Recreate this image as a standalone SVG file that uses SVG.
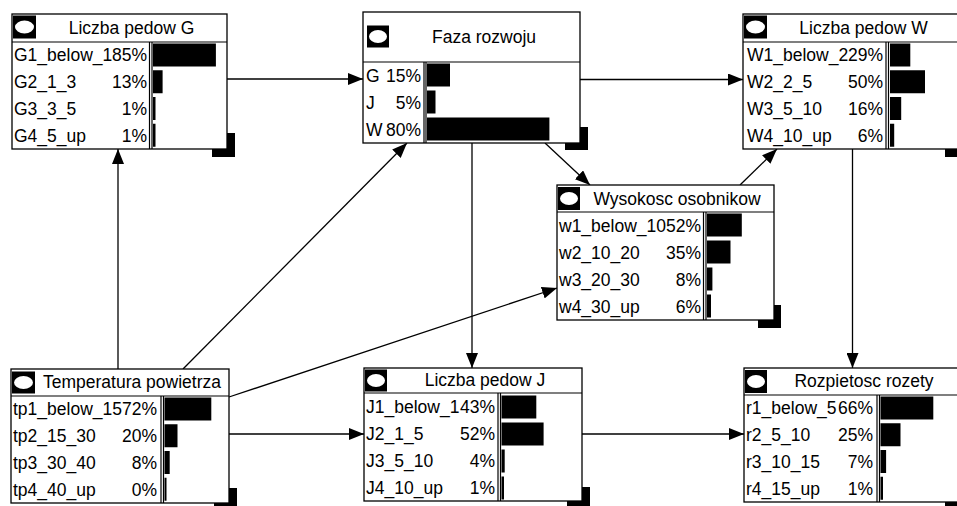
<svg xmlns="http://www.w3.org/2000/svg" width="957" height="506" viewBox="0 0 957 506">
<style>
.bg{fill:#fff}
.box{fill:#fff;stroke:#000;stroke-width:1.3}
.sep{stroke:#000;stroke-width:1.2;fill:none}
.sh{fill:#000}
.bar{fill:#000}
.ico{fill:#000}
.ell{fill:#fff}
.t{font-family:"Liberation Sans",Arial,sans-serif;font-size:17.5px;fill:#000}
.r{text-anchor:end}
.c{text-anchor:middle}
.ln{stroke:#000;stroke-width:1.3;fill:none;marker-end:url(#ah)}
</style>
<defs>
<marker id="ah" markerUnits="userSpaceOnUse" markerWidth="15" markerHeight="12" refX="15" refY="6" orient="auto">
<path d="M0,0 L15,6 L0,12 z" fill="#000"/>
</marker>
</defs>
<rect class="bg" x="0" y="0" width="957" height="506"/>
<g id="connectors">
<line class="ln" x1="227" y1="79" x2="363" y2="79"/>
<line class="ln" x1="580" y1="79.5" x2="743" y2="79.5"/>
<line class="ln" x1="545" y1="143" x2="590" y2="185"/>
<line class="ln" x1="472" y1="143" x2="472" y2="368"/>
<line class="ln" x1="740" y1="185" x2="777" y2="149"/>
<line class="ln" x1="852.5" y1="149" x2="852.5" y2="368"/>
<line class="ln" x1="118" y1="369" x2="118" y2="149"/>
<line class="ln" x1="183" y1="369" x2="407" y2="143"/>
<line class="ln" x1="229" y1="397" x2="557" y2="288"/>
<line class="ln" x1="229" y1="434" x2="364" y2="434"/>
<line class="ln" x1="582" y1="434" x2="744" y2="434"/>
</g>
<g id="node-liczba-pedow-g">
<rect class="sh" x="212" y="133" width="23" height="24"/>
<rect class="box" x="12" y="14" width="215" height="135"/>
<line class="sep" x1="12" y1="42" x2="227" y2="42"/>
<line class="sep" x1="149.5" y1="42" x2="149.5" y2="149"/>
<line class="sep" x1="152" y1="42" x2="152" y2="149"/>
<rect class="ico" x="13" y="15.5" width="23" height="23"/>
<ellipse class="ell" cx="24.5" cy="27" rx="9.5" ry="6.5"/>
<text class="t c" x="131.5" y="33.5">Liczba pedow G</text>
<text class="t" x="14" y="61.4">G1_below_1</text><text class="t r" x="147" y="61.4">85%</text>
<text class="t" x="14" y="88.1">G2_1_3</text><text class="t r" x="147" y="88.1">13%</text>
<text class="t" x="14" y="114.9">G3_3_5</text><text class="t r" x="147" y="114.9">1%</text>
<text class="t" x="14" y="141.6">G4_5_up</text><text class="t r" x="147" y="141.6">1%</text>
<rect class="bar" x="153" y="43.5" width="62.9" height="23"/>
<rect class="bar" x="153" y="70.25" width="9.6" height="23"/>
<rect class="bar" x="153" y="97" width="2.5" height="23"/>
<rect class="bar" x="153" y="123.75" width="2.5" height="23"/>
</g>
<g id="node-faza-rozwoju">
<rect class="sh" x="565" y="127" width="23" height="23"/>
<rect class="box" x="363" y="12" width="217" height="131"/>
<line class="sep" x1="363" y1="62" x2="580" y2="62"/>
<line class="sep" x1="424" y1="62" x2="424" y2="143"/>
<line class="sep" x1="426" y1="62" x2="426" y2="143"/>
<rect class="ico" x="367" y="25.5" width="22" height="22"/>
<ellipse class="ell" cx="378" cy="36.5" rx="9" ry="6.5"/>
<text class="t c" x="484" y="42.5">Faza rozwoju</text>
<text class="t" x="366" y="81.5">G</text><text class="t r" x="421" y="81.5">15%</text>
<text class="t" x="366" y="108.5">J</text><text class="t r" x="421" y="108.5">5%</text>
<text class="t" x="366" y="135.5">W</text><text class="t r" x="421" y="135.5">80%</text>
<rect class="bar" x="427" y="63.5" width="23" height="23"/>
<rect class="bar" x="427" y="90.5" width="8.5" height="23"/>
<rect class="bar" x="427" y="117.5" width="122.4" height="23"/>
</g>
<g id="node-liczba-pedow-w">
<rect class="sh" x="945" y="133" width="23" height="24"/>
<rect class="box" x="743" y="14" width="217" height="135"/>
<line class="sep" x1="743" y1="42" x2="960" y2="42"/>
<line class="sep" x1="886" y1="42" x2="886" y2="149"/>
<line class="sep" x1="888.5" y1="42" x2="888.5" y2="149"/>
<rect class="ico" x="744" y="15.5" width="23" height="23"/>
<ellipse class="ell" cx="755.5" cy="27" rx="9.5" ry="6.5"/>
<text class="t c" x="863.5" y="33.5">Liczba pedow W</text>
<text class="t" x="747" y="61.4">W1_below_2</text><text class="t r" x="883" y="61.4">29%</text>
<text class="t" x="747" y="88.1">W2_2_5</text><text class="t r" x="883" y="88.1">50%</text>
<text class="t" x="747" y="114.9">W3_5_10</text><text class="t r" x="883" y="114.9">16%</text>
<text class="t" x="747" y="141.6">W4_10_up</text><text class="t r" x="883" y="141.6">6%</text>
<rect class="bar" x="890" y="43.5" width="20.3" height="23"/>
<rect class="bar" x="890" y="70.25" width="35" height="23"/>
<rect class="bar" x="890" y="97" width="11.2" height="23"/>
<rect class="bar" x="890" y="123.75" width="4.2" height="23"/>
</g>
<g id="node-wysokosc-osobnikow">
<rect class="sh" x="758" y="305" width="23" height="23"/>
<rect class="box" x="557" y="185" width="217" height="135"/>
<line class="sep" x1="557" y1="212" x2="774" y2="212"/>
<line class="sep" x1="703.5" y1="212" x2="703.5" y2="320"/>
<line class="sep" x1="706" y1="212" x2="706" y2="320"/>
<rect class="ico" x="558" y="187" width="22" height="23"/>
<ellipse class="ell" cx="569" cy="198.5" rx="9" ry="6.5"/>
<text class="t c" x="677" y="204.5">Wysokosc osobnikow</text>
<text class="t" x="559" y="231.5">w1_below_10</text><text class="t r" x="701" y="231.5">52%</text>
<text class="t" x="559" y="258.5">w2_10_20</text><text class="t r" x="701" y="258.5">35%</text>
<text class="t" x="559" y="285.5">w3_20_30</text><text class="t r" x="701" y="285.5">8%</text>
<text class="t" x="559" y="312.5">w4_30_up</text><text class="t r" x="701" y="312.5">6%</text>
<rect class="bar" x="707" y="213.5" width="34.8" height="23"/>
<rect class="bar" x="707" y="240.5" width="23.5" height="23"/>
<rect class="bar" x="707" y="267.5" width="5.4" height="23"/>
<rect class="bar" x="707" y="294.5" width="4" height="23"/>
</g>
<g id="node-temperatura-powietrza">
<rect class="sh" x="214" y="488" width="23" height="23"/>
<rect class="box" x="11" y="369" width="218" height="134"/>
<line class="sep" x1="11" y1="396" x2="229" y2="396"/>
<line class="sep" x1="161" y1="396" x2="161" y2="503"/>
<line class="sep" x1="163.5" y1="396" x2="163.5" y2="503"/>
<rect class="ico" x="12" y="371.5" width="23" height="22"/>
<ellipse class="ell" cx="23.5" cy="382.5" rx="9.5" ry="6.5"/>
<text class="t c" x="132" y="388">Temperatura powietrza</text>
<text class="t" x="13" y="415.4">tp1_below_15</text><text class="t r" x="157" y="415.4">72%</text>
<text class="t" x="13" y="442.1">tp2_15_30</text><text class="t r" x="157" y="442.1">20%</text>
<text class="t" x="13" y="468.9">tp3_30_40</text><text class="t r" x="157" y="468.9">8%</text>
<text class="t" x="13" y="495.6">tp4_40_up</text><text class="t r" x="157" y="495.6">0%</text>
<rect class="bar" x="164.5" y="397.5" width="46.8" height="23"/>
<rect class="bar" x="164.5" y="424.25" width="13" height="23"/>
<rect class="bar" x="164.5" y="451" width="5.2" height="23"/>
<rect class="bar" x="164.5" y="477.75" width="2" height="23"/>
</g>
<g id="node-liczba-pedow-j">
<rect class="sh" x="567" y="487" width="23" height="23"/>
<rect class="box" x="364" y="368" width="218" height="133"/>
<line class="sep" x1="364" y1="393" x2="582" y2="393"/>
<line class="sep" x1="498" y1="393" x2="498" y2="501"/>
<line class="sep" x1="500.5" y1="393" x2="500.5" y2="501"/>
<rect class="ico" x="365" y="369.5" width="22" height="22"/>
<ellipse class="ell" cx="376" cy="380.5" rx="9" ry="6.5"/>
<text class="t c" x="485" y="386">Liczba pedow J</text>
<text class="t" x="366" y="412.5">J1_below_1</text><text class="t r" x="495" y="412.5">43%</text>
<text class="t" x="366" y="439.5">J2_1_5</text><text class="t r" x="495" y="439.5">52%</text>
<text class="t" x="366" y="466.5">J3_5_10</text><text class="t r" x="495" y="466.5">4%</text>
<text class="t" x="366" y="493.5">J4_10_up</text><text class="t r" x="495" y="493.5">1%</text>
<rect class="bar" x="501.5" y="395.5" width="34.8" height="23"/>
<rect class="bar" x="501.5" y="422.5" width="42.1" height="23"/>
<rect class="bar" x="501.5" y="449.5" width="3.2" height="23"/>
<rect class="bar" x="501.5" y="476.5" width="2.5" height="23"/>
</g>
<g id="node-rozpietosc-rozety">
<rect class="sh" x="945" y="487" width="23" height="23"/>
<rect class="box" x="744" y="368" width="216" height="134"/>
<line class="sep" x1="744" y1="395" x2="960" y2="395"/>
<line class="sep" x1="877" y1="395" x2="877" y2="502"/>
<line class="sep" x1="879.5" y1="395" x2="879.5" y2="502"/>
<rect class="ico" x="745" y="370" width="22" height="23"/>
<ellipse class="ell" cx="756" cy="381.5" rx="9" ry="6.5"/>
<text class="t c" x="864" y="387">Rozpietosc rozety</text>
<text class="t" x="746" y="414.4">r1_below_5</text><text class="t r" x="873" y="414.4">66%</text>
<text class="t" x="746" y="441.1">r2_5_10</text><text class="t r" x="873" y="441.1">25%</text>
<text class="t" x="746" y="467.9">r3_10_15</text><text class="t r" x="873" y="467.9">7%</text>
<text class="t" x="746" y="494.6">r4_15_up</text><text class="t r" x="873" y="494.6">1%</text>
<rect class="bar" x="880.5" y="396.5" width="52.8" height="23"/>
<rect class="bar" x="880.5" y="423.25" width="20" height="23"/>
<rect class="bar" x="880.5" y="450" width="5.6" height="23"/>
<rect class="bar" x="880.5" y="476.75" width="2.5" height="23"/>
</g>
</svg>
